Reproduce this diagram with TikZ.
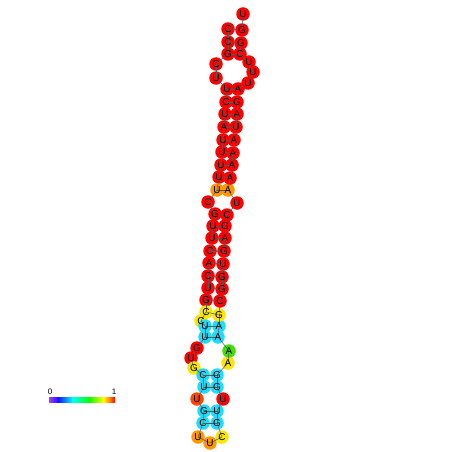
\documentclass[tikz,border=0pt]{standalone}
\usepackage{fontspec}
\setmainfont{Liberation Sans}
\definecolor{cR}{RGB}{255,0,0}
\definecolor{cO}{RGB}{255,150,0}
\definecolor{cOR}{RGB}{255,70,0}
\definecolor{cY}{RGB}{250,230,0}
\definecolor{cC}{RGB}{30,220,250}
\definecolor{cG}{RGB}{60,225,0}
\definecolor{cP}{RGB}{170,60,255}
\definecolor{cB}{RGB}{20,20,255}
\pgfdeclarehorizontalshading{cbar}{100bp}{color(0bp)=(cP); color(25bp)=(cP); color(32bp)=(cB); color(43bp)=(cyan); color(55bp)=(green); color(66bp)=(yellow); color(71bp)=(orange); color(75bp)=(red); color(100bp)=(red)}
\def\ntlist{1/228/29/C/cR, 2/228/42/C/cR, 3/228/54/G/cR, 4/216/64/C/cR, 5/216/78/U/cR,
6/227/89/U/cR, 7/226/102/C/cR, 8/225/114/U/cR, 9/224/127/A/cR, 10/223/140/U/cR,
11/222/152/U/cR, 12/221/165/U/cR, 13/219/177/U/cR, 14/217/190/U/cO, 15/208/202/C/cR,
16/215/214/G/cR, 17/213/226/U/cR, 18/212/238/U/cR, 19/210/251/C/cR, 20/209/263/A/cR,
21/208/276/C/cR, 22/208/288/U/cR, 23/206/300/G/cR, 24/206/312/C/cY, 25/201/321/C/cY,
26/205/326/U/cC, 27/205/337/U/cC, 28/197/348/G/cR, 29/191/358/U/cR, 30/194/368/G/cY,
31/203/375/C/cC, 32/204/387/U/cC, 33/197/399/U/cOR, 34/204/411/G/cC, 35/203/423/C/cC,
36/198/437/U/cO, 37/210/443/U/cO, 38/222/437/C/cY, 39/217/423/G/cC, 40/217/411/U/cC,
41/223/399/U/cR, 42/217/387/G/cC, 43/217/375/G/cC, 44/228/363/A/cY, 45/229/351/A/cG,
46/218/337/A/cC, 47/219/326/A/cC, 48/219/315/G/cY, 49/220/301/C/cR, 50/222/289/G/cR,
51/222/277/G/cR, 52/223/264/U/cR, 53/224/251/G/cR, 54/225/238/A/cR, 55/225/226/G/cR,
56/227/215/C/cR, 57/237/203/U/cR, 58/228/190/A/cO, 59/230/178/A/cR, 60/232/165/A/cR,
61/233/153/A/cR, 62/234/140/A/cR, 63/236/127/U/cR, 64/237/114/A/cR, 65/237/102/G/cR,
66/238/89/A/cR, 67/248/83/U/cR, 68/253/72/U/cR, 69/249/62/U/cR, 70/240/54/C/cR,
71/241/43/G/cR, 72/242/30/G/cR, 73/243/14/U/cR}
\begin{document}
\begin{tikzpicture}[x=1pt,y=-1pt,
  nt/.style={circle, inner sep=0pt, minimum size=13.5pt},
  lt/.style={font=\fontsize{10}{10}\selectfont, inner sep=0pt, text height=7.2pt, text depth=0pt},
  bb/.style={draw=black!65, line width=0.5pt},
  lbl/.style={font=\fontsize{8}{8}\selectfont, inner sep=0pt}]
\fill[white] (0,0) rectangle (452,452);
\useasboundingbox (0,0) rectangle (452,452);
\foreach \i/\x/\y/\b/\c in \ntlist { \node[nt, fill=\c] (n\i) at (\x,\y) {}; }
\foreach \i [remember=\i as \p (initially 1)] in {2,...,73} { \draw[bb] (n\p.center) -- (n\i.center); }
\foreach \a/\b in {1/72,2/71,3/70,6/66,7/65,8/64,9/63,10/62,11/61,12/60,13/59,14/58,16/56,17/55,18/54,19/53,20/52,21/51,22/50,23/49,24/48,26/47,27/46,31/43,32/42,34/40,35/39} { \draw[bb] (n\a.center) -- (n\b.center); }
\foreach \i/\x/\y/\b/\c in \ntlist { \node[lt] (t\i) at (n\i.center) {\b}; }
\shade[shading=cbar] (49,397) rectangle (115,402);
\node[lbl] (l0) at (50,392) {0};
\node[lbl] (l1) at (114,392) {1};
\end{tikzpicture}
\end{document}
